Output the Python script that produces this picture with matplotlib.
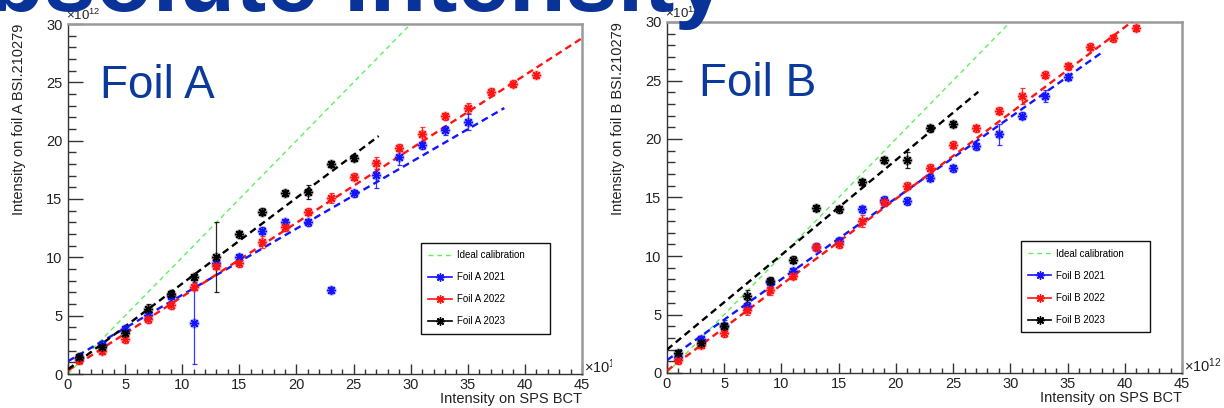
import matplotlib
matplotlib.use("Agg")
import matplotlib.pyplot as plt
import numpy as np
from matplotlib.lines import Line2D
from matplotlib.transforms import Bbox, TransformedBbox

plt.rcParams['font.family'] = ['Liberation Sans', 'DejaVu Sans']
plt.rcParams['mathtext.fontset'] = 'custom'
plt.rcParams['mathtext.rm'] = 'Liberation Sans'
plt.rcParams['mathtext.it'] = 'Liberation Sans:italic'
plt.rcParams['lines.scale_dashes'] = False

# ---------------- data (x in 1e12, y in 1e12) ----------------
# Foil A
xA_2021 = [1, 3, 5, 7, 9, 11, 13, 15, 17, 19, 21, 23, 25, 27, 29, 31, 33, 35]
yA_2021 = [1.4, 2.5, 3.9, 5.1, 6.7, 4.4, 9.5, 10.0, 12.3, 13.0, 13.0, 7.2, 15.5, 17.1, 18.6, 19.6, 20.9, 21.6]
eA_2021 = [0.3, 0.3, 0.3, 0.3, 0.3, 3.5, 0.3, 0.3, 0.3, 0.3, 0.3, 0.25, 0.3, 1.2, 0.65, 0.3, 0.4, 0.7]

xA_2022 = [1, 3, 5, 7, 9, 11, 13, 15, 17, 19, 21, 23, 25, 27, 29, 31, 33, 35, 37, 39, 41]
yA_2022 = [1.2, 2.0, 3.0, 4.7, 5.9, 7.5, 9.3, 9.5, 11.3, 12.6, 13.9, 15.1, 16.9, 18.1, 19.4, 20.6, 22.1, 22.8, 24.2, 24.9, 25.6]
eA_2022 = [0.3, 0.3, 0.3, 0.3, 0.3, 0.3, 0.3, 0.3, 0.5, 0.3, 0.3, 0.4, 0.3, 0.5, 0.3, 0.6, 0.3, 0.4, 0.3, 0.3, 0.2]

xA_2023 = [1, 3, 5, 7, 9, 11, 13, 15, 17, 19, 21, 23, 25]
yA_2023 = [1.5, 2.3, 3.5, 5.6, 6.9, 8.3, 10.0, 12.0, 13.9, 15.5, 15.6, 18.0, 18.5]
eA_2023 = [0.3, 0.3, 0.3, 0.4, 0.3, 0.25, 3.0, 0.3, 0.3, 0.25, 0.6, 0.25, 0.25]

# Foil B
xB_2021 = [1, 3, 5, 7, 9, 11, 13, 15, 17, 19, 21, 23, 25, 27, 29, 31, 33, 35]
yB_2021 = [1.4, 2.9, 4.0, 5.7, 7.8, 8.7, 10.8, 11.3, 14.0, 14.8, 14.7, 16.7, 17.5, 19.4, 20.4, 22.0, 23.7, 25.3]
eB_2021 = [0.3, 0.3, 0.5, 0.5, 0.3, 0.3, 0.3, 0.3, 0.3, 0.3, 0.3, 0.3, 0.3, 0.3, 0.9, 0.3, 0.5, 0.25]

xB_2022 = [1, 3, 5, 7, 9, 11, 13, 15, 17, 19, 21, 23, 25, 27, 29, 31, 33, 35, 37, 39, 41]
yB_2022 = [1.1, 2.4, 3.4, 5.4, 7.1, 8.3, 10.75, 11.0, 13.0, 14.6, 16.0, 17.5, 19.5, 20.9, 22.4, 23.7, 25.5, 26.2, 27.9, 28.6, 29.5]
eB_2022 = [0.3, 0.3, 0.3, 0.4, 0.4, 0.3, 0.3, 0.3, 0.5, 0.3, 0.3, 0.4, 0.3, 0.3, 0.3, 0.7, 0.3, 0.3, 0.3, 0.3, 0.25]

xB_2023 = [1, 3, 5, 7, 9, 11, 13, 15, 17, 19, 21, 23, 25]
yB_2023 = [1.7, 2.6, 4.0, 6.6, 7.9, 9.7, 14.1, 14.0, 16.3, 18.2, 18.2, 20.9, 21.3]
eB_2023 = [0.3, 0.3, 0.3, 0.5, 0.3, 0.3, 0.25, 0.3, 0.25, 0.25, 0.7, 0.3, 0.25]

# linear fits: (intercept, slope, x_end)
fitA_2021 = (1.1, 0.568, 38.2)
fitA_2022 = (0.3, 0.633, 45.0)
fitA_2023 = (0.4, 0.735, 27.2)
fitB_2021 = (1.1, 0.692, 38.1)
fitB_2022 = (0.2, 0.734, 45.0)
fitB_2023 = (2.0, 0.810, 27.2)
ideal = (0.0, 1.0, 45.0)

years = ['2021', '2022', '2023']
colors = {'2021': '#1414ff', '2022': '#ff1414', '2023': '#000000'}
green = '#5cf25c'
navy = '#0b3a9c'

fig = plt.figure(figsize=(12.24, 4.08), dpi=100)


def draw_panel(rect, foil, series, fits, clip_exp=False):
    ax = fig.add_axes(rect)
    ax.set_xlim(0, 45)
    ax.set_ylim(0, 30)

    # ideal calibration
    xi = np.linspace(0, ideal[2], 2)
    ax.plot(xi, ideal[0] + ideal[1] * xi, color=green, lw=1.0,
            dashes=(3.5, 2.8), zorder=2)

    for yr in years:
        x, y, e = series[yr]
        c = colors[yr]
        b, m, xe = fits[yr]
        xf = np.linspace(0, xe, 2)
        ax.plot(xf, b + m * xf, color=c, lw=1.7, dashes=(5.0, 3.2), zorder=3)
        ax.errorbar(x, y, yerr=e, fmt='none', ecolor=c, elinewidth=0.9,
                    capsize=1.8, capthick=0.9, alpha=0.85, zorder=4)
        ax.plot(x, y, ls='none', marker='o', ms=7.5, color=c, mec='none',
                alpha=0.3, zorder=4)
        ax.plot(x, y, ls='none', marker=(8, 2, 0), ms=6.5, mew=1.0,
                color=c, mec=c, zorder=5)

    # axis styling
    for s in ['top', 'right']:
        ax.spines[s].set_color('#9a9a9a')
        ax.spines[s].set_linewidth(1.8)
    for s in ['left', 'bottom']:
        ax.spines[s].set_color('#333333')
        ax.spines[s].set_linewidth(1.0)
    ax.set_xticks(np.arange(0, 46, 5))
    ax.set_xticks(np.arange(0, 46, 1), minor=True)
    ax.set_yticks(np.arange(0, 31, 5))
    ax.set_yticks(np.arange(0, 31, 1), minor=True)
    ax.tick_params(axis='both', which='both', direction='in', color='#333333',
                   width=1.0, labelsize=10.5, labelcolor='#222222',
                   top=False, right=False)
    ax.tick_params(axis='y', which='major', length=10.8, pad=4)
    ax.tick_params(axis='y', which='minor', length=5.4)
    ax.tick_params(axis='x', which='major', length=7.2, pad=3)
    ax.tick_params(axis='x', which='minor', length=3.6)

    ax.set_xlabel('Intensity on SPS BCT', loc='right', fontsize=10.5,
                  color='#222222')
    ax.xaxis.set_label_coords(1.0, -0.05)
    ax.set_ylabel(f'Intensity on foil {foil} BSI.210279', loc='top',
                  fontsize=10.5, color='#222222')
    ax.yaxis.set_label_coords(-0.082, 1.0)

    # exponent labels
    ax.text(-0.004, 1.01, r'$\times10^{12}$', transform=ax.transAxes,
            fontsize=9.5, color='#222222', ha='left', va='baseline')
    t = ax.text(1.003, 0.004, r'$\times10^{12}$', transform=ax.transAxes,
                fontsize=10.5, color='#222222', ha='left', va='baseline')
    if clip_exp:
        t.set_clip_box(TransformedBbox(Bbox([[0, 0], [0.5, 1]]),
                                       fig.transFigure))
        t.set_clip_on(True)

    # legend
    handles = [Line2D([], [], color=green, lw=1.0, dashes=(3.5, 2.8))]
    labels = ['Ideal calibration']
    for yr in years:
        c = colors[yr]
        handles.append(Line2D([], [], color=c, lw=1.2, marker=(8, 2, 0),
                              ms=6, mew=1.0))
        labels.append(f'Foil {foil} {yr}')
    leg = ax.legend(handles, labels, loc='upper left',
                    bbox_to_anchor=(0.687, 0.125, 0.251, 0.25),
                    mode='expand', fontsize=7, frameon=True, fancybox=False,
                    edgecolor='#111111', framealpha=1, borderpad=0.75,
                    labelspacing=1.25, handlelength=2.4, handletextpad=0.5,
                    borderaxespad=0)
    leg.get_frame().set_linewidth(1.0)

    ax.text(0.062, 0.79, f'Foil {foil}', transform=ax.transAxes,
            fontsize=33, color=navy, ha='left', va='baseline')
    return ax


seriesA = {'2021': (xA_2021, yA_2021, eA_2021),
           '2022': (xA_2022, yA_2022, eA_2022),
           '2023': (xA_2023, yA_2023, eA_2023)}
fitsA = {'2021': fitA_2021, '2022': fitA_2022, '2023': fitA_2023}
seriesB = {'2021': (xB_2021, yB_2021, eB_2021),
           '2022': (xB_2022, yB_2022, eB_2022),
           '2023': (xB_2023, yB_2023, eB_2023)}
fitsB = {'2021': fitB_2021, '2022': fitB_2022, '2023': fitB_2023}

draw_panel([68 / 1224, 34 / 408, 514 / 1224, 350 / 408], 'A', seriesA, fitsA,
           clip_exp=True)
draw_panel([667 / 1224, 35 / 408, 515 / 1224, 351 / 408], 'B', seriesB, fitsB)

# page heading, partly outside the canvas
fig.text(-80 / 1224, 1 - 11 / 408, 'Absolute intensity', fontsize=67,
         fontweight='bold', color='#0a3399', ha='left', va='baseline')

fig.savefig('out.png', dpi=100)
